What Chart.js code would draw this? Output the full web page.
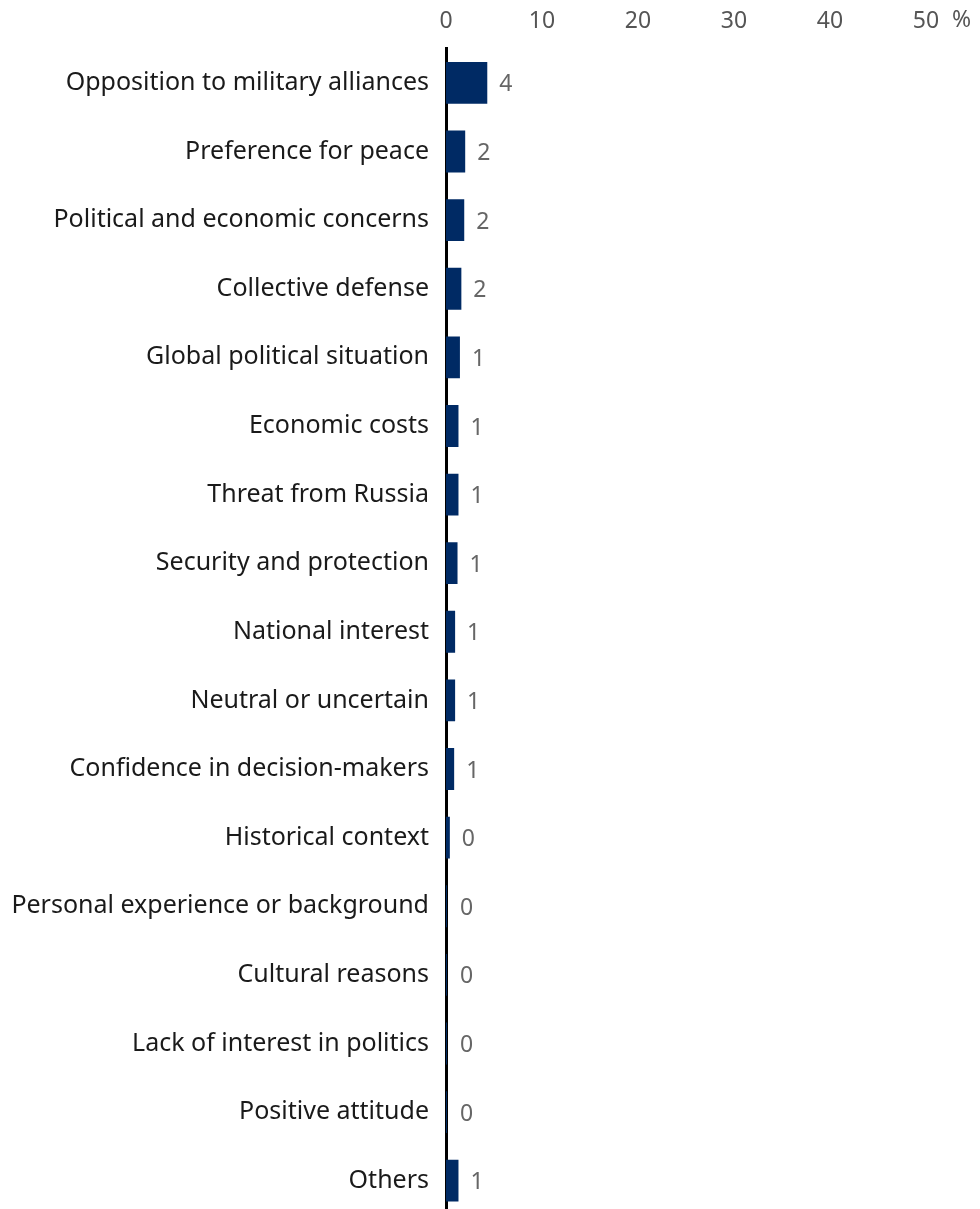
<!DOCTYPE html>
<html>
<head>
<meta charset="utf-8">
<script src="https://cdn.jsdelivr.net/npm/chart.js@4/dist/chart.umd.min.js"></script>
<style>
  html, body { margin: 0; padding: 0; background: #fff; overflow: hidden; }
  canvas { display: block; }
</style>
</head>
<body>
<canvas id="reasonsChart" width="980" height="1215"></canvas>
<script>
// Reasons, share of respondents (%)
const categories = [
    'Opposition to military alliances',
    'Preference for peace',
    'Political and economic concerns',
    'Collective defense',
    'Global political situation',
    'Economic costs',
    'Threat from Russia',
    'Security and protection',
    'National interest',
    'Neutral or uncertain',
    'Confidence in decision-makers',
    'Historical context',
    'Personal experience or background',
    'Cultural reasons',
    'Lack of interest in politics',
    'Positive attitude',
    'Others'
];
const shares = [4.3, 2.0, 1.9, 1.6, 1.45, 1.3, 1.3, 1.2, 0.95, 0.95, 0.85, 0.4, 0.1, 0.1, 0.1, 0.1, 1.3];
const xTicks = [0, 10, 20, 30, 40, 50];

const FONT = '"Noto Sans", "Open Sans", sans-serif';

// value labels to the right of each bar + the "%" after the last tick
const labelPlugin = {
    id: 'barLabels',
    afterDatasetsDraw(chart) {
        const ctx = chart.ctx;
        const meta = chart.getDatasetMeta(0);
        ctx.save();
        ctx.font = '23px ' + FONT;
        ctx.fillStyle = '#666';
        ctx.textAlign = 'left';
        ctx.textBaseline = 'middle';
        meta.data.forEach((bar, i) => {
            const x = Math.max(bar.x, chart.chartArea.left + 2);
            ctx.fillText(Math.round(shares[i]).toString(), x + 12, bar.y + 2);
        });
        ctx.restore();
    },
    afterDraw(chart) {
        const ctx = chart.ctx;
        const xs = chart.scales.x;
        const px = xs.getPixelForValue(xTicks[xTicks.length - 1]);
        ctx.save();
        ctx.font = '23px ' + FONT;
        ctx.fillStyle = '#555';
        ctx.textAlign = 'left';
        ctx.textBaseline = 'middle';
        ctx.fillText('%', px + 26, 20);
        ctx.restore();
    }
};

document.addEventListener('DOMContentLoaded', () => {
    const canvas = document.getElementById('reasonsChart');
    new Chart(canvas.getContext('2d'), {
        type: 'bar',
        data: {
            labels: categories,
            datasets: [{
                data: shares,
                backgroundColor: '#002a64',
                borderWidth: 0,
                barPercentage: 0.61,
                categoryPercentage: 1
            }]
        },
        options: {
            indexAxis: 'y',
            responsive: false,
            animation: false,
            layout: { padding: { left: 0, right: 54, top: 0, bottom: 0 } },
            plugins: { legend: { display: false }, tooltip: { enabled: false } },
            scales: {
                x: {
                    position: 'top',
                    min: 0,
                    max: 50,
                    afterBuildTicks: s => { s.ticks = xTicks.map(v => ({ value: v })); },
                    afterFit: s => { s.height = 48.6; },
                    grid: { display: false, drawTicks: false },
                    border: { display: false },
                    ticks: {
                        color: '#555',
                        padding: 13,
                        font: { family: FONT, size: 23 },
                        callback: v => String(v)
                    }
                },
                y: {
                    z: 1,
                    afterFit: s => { s.width = 446; s.paddingTop = 0; s.paddingBottom = 0; },
                    grid: { display: false, drawTicks: false },
                    border: { display: true, color: '#000', width: 3 },
                    ticks: {
                        color: '#1a1a1a',
                        padding: 17,
                        font: { family: FONT, size: 25 }
                    }
                }
            }
        },
        plugins: [labelPlugin]
    });
});
</script>
</body>
</html>
